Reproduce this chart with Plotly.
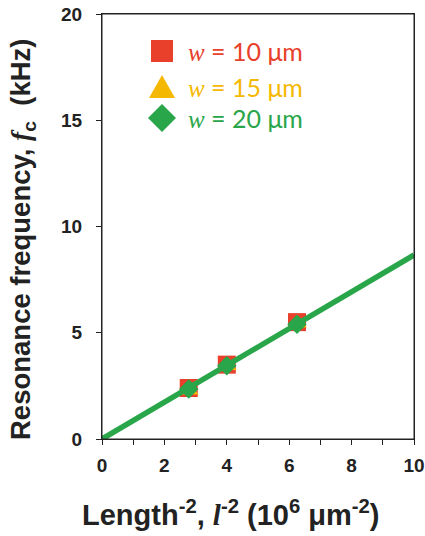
import plotly.graph_objects as go

# Data
x_inv_l2 = [2.78, 4.0, 6.25]          # 10^6 um^-2
fc_w10 = [2.4, 3.5, 5.5]              # kHz
fc_w15 = [2.3, 3.45, 5.45]
fc_w20 = [2.35, 3.45, 5.4]
fit_x = [0, 10]
fit_y = [0, 8.66]
legend_labels = ["10 μm", "15 μm", "20 μm"]

red = "#E8402A"
yellow = "#F5B800"
green = "#2AA64A"
colors = [red, yellow, green]
ink = "#222222"

fig = go.Figure()
fig.add_trace(go.Scatter(x=x_inv_l2, y=fc_w10, mode="markers",
    marker=dict(symbol="square", size=18, color=red), showlegend=False))
fig.add_trace(go.Scatter(x=x_inv_l2, y=fc_w15, mode="markers",
    marker=dict(symbol="triangle-up", size=17, color=yellow), showlegend=False))
fig.add_trace(go.Scatter(x=x_inv_l2, y=fc_w20, mode="markers",
    marker=dict(symbol="diamond", size=15, color=green), showlegend=False))
fig.add_trace(go.Scatter(x=fit_x, y=fit_y, mode="lines",
    line=dict(color=green, width=5.5), showlegend=False))

FW, FH = 425, 536
# plot area in page pixels: x 102..414, y 14..439
L, T, W, H = 102, 14, 312, 425
def px(xp): return (xp - L) / W
def py(yp): return (T + H - yp) / H

# plot frame
fig.add_shape(type="rect", xref="paper", yref="paper", x0=0, x1=1, y0=0, y1=1,
              line=dict(color=ink, width=1), layer="above")

rows_y = [51, 87, 118]
mx = 162
paths = [
    "M -11 -11 L 11 -11 L 11 11 L -11 11 Z",
    "M -13 -11 L 13 -11 L 0 12 Z",
    "M 0 -14 L 14 0 L 0 14 L -14 0 Z",
]
for yrow, pth, col, lab in zip(rows_y, paths, colors, legend_labels):
    fig.add_shape(type="path", xref="paper", yref="paper",
                  xsizemode="pixel", ysizemode="pixel",
                  xanchor=px(mx), yanchor=py(yrow), path=pth,
                  fillcolor=col, line=dict(width=0))
    fig.add_annotation(xref="paper", yref="paper", x=px(186), y=py(yrow),
                       xanchor="left", yanchor="middle", showarrow=False,
                       text="<span style='font-family:Liberation Serif'><i>w</i></span> = " + lab,
                       font=dict(family="Lato", size=25, color=col))

# axis titles
fig.add_annotation(xref="paper", yref="paper", x=px(231), y=py(513),
                   xanchor="center", yanchor="middle", showarrow=False,
                   text="<b>Length<sup>-2</sup>, <span style='font-family:Liberation Serif'><i>l</i></span><sup>-2</sup> (10<sup>6</sup> μm<sup>-2</sup>)</b>",
                   font=dict(family="Liberation Sans", size=29, color=ink))
fig.add_annotation(xref="paper", yref="paper", x=px(22), y=py(240),
                   xanchor="center", yanchor="middle", showarrow=False, textangle=-90,
                   text="<b>Resonance frequency, <span style='font-family:Liberation Serif'><i>f</i></span><sub>c</sub>  (kHz)</b>",
                   font=dict(family="Liberation Sans", size=27.5, color=ink))

fig.update_layout(
    width=FW, height=FH,
    margin=dict(l=L, r=FW - L - W, t=T, b=FH - T - H),
    plot_bgcolor="white", paper_bgcolor="white",
    showlegend=False,
    xaxis=dict(range=[0, 10], dtick=2, showgrid=False, zeroline=False,
               automargin=False, ticklabeloverflow="allow",
               showline=True, linecolor=ink, linewidth=1, mirror=True,
               ticks="outside", ticklen=5, tickcolor=ink,
               ticklabelstandoff=4,
               minor=dict(dtick=1, ticks="outside", ticklen=5, tickcolor=ink),
               tickfont=dict(family="Liberation Sans", size=19, color=ink, weight="bold")),
    yaxis=dict(range=[0, 20], dtick=5, showgrid=False, zeroline=False,
               automargin=False, ticklabeloverflow="allow",
               showline=True, linecolor=ink, linewidth=1, mirror=True,
               ticks="outside", ticklen=5, tickcolor=ink,
               ticklabelstandoff=10,
               tickfont=dict(family="Liberation Sans", size=19, color=ink, weight="bold")),
)
fig.write_html("out.html", config={"displayModeBar": False},
               post_script="document.body.style.margin='0';")
